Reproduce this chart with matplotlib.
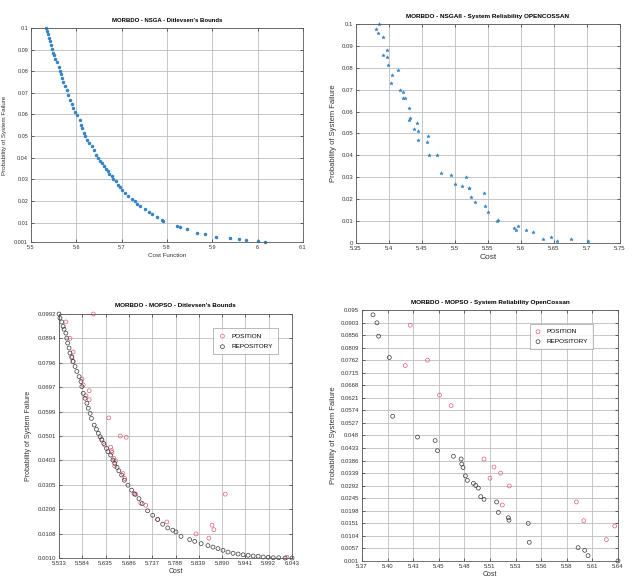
import numpy as np
import matplotlib
matplotlib.use('Agg')
import matplotlib.pyplot as plt

plt.rcParams['font.family'] = ['Liberation Sans', 'DejaVu Sans']

# --- NSGA / Ditlevsen's bounds (top left) ---
nsga_dit_cost = [5.533, 5.535, 5.537, 5.539, 5.542, 5.544, 5.546, 5.549, 5.551, 5.554,
                 5.557, 5.561, 5.564, 5.566, 5.569, 5.571, 5.575, 5.579, 5.582, 5.586,
                 5.590, 5.593, 5.597, 5.602, 5.608, 5.610, 5.612, 5.617, 5.620, 5.624,
                 5.629, 5.634, 5.639, 5.643, 5.647, 5.652, 5.656, 5.661, 5.665, 5.669,
                 5.673, 5.678, 5.681, 5.687, 5.692, 5.696, 5.701, 5.707, 5.714, 5.722,
                 5.729, 5.734, 5.740, 5.751, 5.761, 5.768, 5.777, 5.788, 5.792, 5.822,
                 5.828, 5.844, 5.867, 5.883, 5.909, 5.938, 5.959, 5.975, 6.001, 6.016]
nsga_dit_pf = [0.1000, 0.0985, 0.0971, 0.0955, 0.0940, 0.0923, 0.0904, 0.0884, 0.0873, 0.0856,
               0.0843, 0.0819, 0.0801, 0.0789, 0.0770, 0.0750, 0.0730, 0.0711, 0.0688, 0.0665,
               0.0650, 0.0631, 0.0611, 0.0596, 0.0573, 0.0549, 0.0537, 0.0514, 0.0500, 0.0483,
               0.0468, 0.0452, 0.0437, 0.0411, 0.0400, 0.0385, 0.0375, 0.0362, 0.0349, 0.0337,
               0.0326, 0.0314, 0.0303, 0.0291, 0.0275, 0.0265, 0.0252, 0.0238, 0.0222, 0.0211,
               0.0198, 0.0188, 0.0177, 0.0163, 0.0149, 0.0139, 0.0126, 0.0114, 0.0108, 0.0083,
               0.0078, 0.0068, 0.0052, 0.0045, 0.0035, 0.0030, 0.0022, 0.0018, 0.0013, 0.0011]
tl_xticks = [5.5, 5.6, 5.7, 5.8, 5.9, 6.0, 6.1]
tl_xlabels = ['5.5', '5.6', '5.7', '5.8', '5.9', '6', '6.1']
tl_yticks = [0.001, 0.01, 0.02, 0.03, 0.04, 0.05, 0.06, 0.07, 0.08, 0.09, 0.1]
tl_ylabels = ['0.001', '0.01', '0.02', '0.03', '0.04', '0.05', '0.06', '0.07', '0.08', '0.09', '0.1']

# --- NSGAII / OpenCossan (top right) ---
nsga2_cost = [5.385, 5.381, 5.384, 5.391, 5.397, 5.391, 5.397, 5.399, 5.414, 5.404,
              5.403, 5.416, 5.421, 5.422, 5.424, 5.430, 5.432, 5.431, 5.443, 5.438,
              5.444, 5.459, 5.444, 5.457, 5.460, 5.473, 5.479, 5.494, 5.516, 5.500,
              5.511, 5.521, 5.522, 5.544, 5.525, 5.530, 5.545, 5.550, 5.563, 5.565,
              5.590, 5.593, 5.596, 5.608, 5.618, 5.634, 5.645, 5.655, 5.676, 5.701]
nsga2_pf = [0.1000, 0.0979, 0.0959, 0.0939, 0.0879, 0.0859, 0.0849, 0.0811, 0.0789, 0.0769,
            0.0730, 0.0700, 0.0690, 0.0660, 0.0660, 0.0618, 0.0571, 0.0562, 0.0550, 0.0521,
            0.0511, 0.0489, 0.0469, 0.0460, 0.0400, 0.0400, 0.0320, 0.0310, 0.0300, 0.0271,
            0.0260, 0.0249, 0.0249, 0.0229, 0.0209, 0.0189, 0.0169, 0.0140, 0.0099, 0.0107,
            0.0070, 0.0060, 0.0079, 0.0060, 0.0050, 0.0020, 0.0029, 0.0009, 0.0020, 0.0009]
tr_xticks = [5.35, 5.4, 5.45, 5.5, 5.55, 5.6, 5.65, 5.7, 5.75]
tr_xlabels = ['5.35', '5.4', '5.45', '5.5', '5.55', '5.6', '5.65', '5.7', '5.75']
tr_yticks = [0, 0.01, 0.02, 0.03, 0.04, 0.05, 0.06, 0.07, 0.08, 0.09, 0.1]
tr_ylabels = ['0', '0.01', '0.02', '0.03', '0.04', '0.05', '0.06', '0.07', '0.08', '0.09', '0.1']

# --- MOPSO / Ditlevsen's bounds (bottom left) ---
mopso_dit_pos_cost = [5.608, 5.548, 5.557, 5.564, 5.561, 5.563, 5.583, 5.586, 5.599, 5.592,
                      5.599, 5.642, 5.667, 5.680, 5.626, 5.633, 5.646, 5.648, 5.649, 5.653,
                      5.657, 5.655, 5.673, 5.677, 5.697, 5.701, 5.712, 5.723, 5.749, 5.769,
                      5.833, 5.861, 5.868, 5.872, 5.897, 6.032]
mopso_dit_pos_pf = [0.0992, 0.0960, 0.0894, 0.0839, 0.0821, 0.0801, 0.0730, 0.0707, 0.0683, 0.0663,
                    0.0647, 0.0574, 0.0501, 0.0496, 0.0488, 0.0465, 0.0456, 0.0442, 0.0435, 0.0411,
                    0.0401, 0.0380, 0.0350, 0.0330, 0.0270, 0.0266, 0.0232, 0.0222, 0.0165, 0.0155,
                    0.0107, 0.0090, 0.0142, 0.0124, 0.0267, 0.0013]
mopso_dit_rep_cost = [5.533, 5.535, 5.539, 5.542, 5.544, 5.548, 5.550, 5.552, 5.555, 5.557,
                      5.561, 5.564, 5.568, 5.572, 5.577, 5.581, 5.583, 5.586, 5.590, 5.594,
                      5.597, 5.601, 5.604, 5.610, 5.615, 5.619, 5.623, 5.627, 5.631, 5.637,
                      5.640, 5.646, 5.651, 5.655, 5.660, 5.664, 5.670, 5.676, 5.684, 5.692,
                      5.699, 5.708, 5.715, 5.727, 5.738, 5.749, 5.760, 5.771, 5.782, 5.789,
                      5.800, 5.819, 5.830, 5.844, 5.859, 5.870, 5.881, 5.892, 5.903, 5.914,
                      5.925, 5.936, 5.947, 5.958, 5.969, 5.980, 5.991, 6.002, 6.014, 6.028, 6.043]
mopso_dit_rep_pf = [0.0992, 0.0976, 0.0960, 0.0942, 0.0931, 0.0915, 0.0895, 0.0875, 0.0855, 0.0835,
                    0.0817, 0.0801, 0.0781, 0.0761, 0.0740, 0.0720, 0.0700, 0.0673, 0.0653, 0.0633,
                    0.0613, 0.0592, 0.0572, 0.0545, 0.0528, 0.0512, 0.0498, 0.0485, 0.0471, 0.0451,
                    0.0438, 0.0424, 0.0404, 0.0391, 0.0375, 0.0361, 0.0344, 0.0323, 0.0303, 0.0283,
                    0.0267, 0.0249, 0.0229, 0.0200, 0.0182, 0.0165, 0.0146, 0.0131, 0.0122, 0.0115,
                    0.0097, 0.0084, 0.0077, 0.0068, 0.0060, 0.0054, 0.0048, 0.0041, 0.0034, 0.0029,
                    0.0026, 0.0023, 0.0021, 0.0018, 0.0017, 0.0014, 0.0013, 0.0011, 0.0011, 0.0010, 0.0010]
bl_xticks = [5.533, 5.584, 5.635, 5.686, 5.737, 5.788, 5.839, 5.890, 5.941, 5.992, 6.043]
bl_xlabels = ['5.533', '5.584', '5.635', '5.686', '5.737', '5.788', '5.839', '5.890', '5.941', '5.992', '6.043']
bl_yticks = [0.0010, 0.0108, 0.0206, 0.0305, 0.0403, 0.0501, 0.0599, 0.0697, 0.0796, 0.0894, 0.0992]
bl_ylabels = ['0.0010', '0.0108', '0.0206', '0.0305', '0.0403', '0.0501', '0.0599', '0.0697', '0.0796', '0.0894', '0.0992']

# --- MOPSO / OpenCossan (bottom right) ---
mopso_oc_pos_cost = [5.4208, 5.4156, 5.4391, 5.4517, 5.4640, 5.4987, 5.5092, 5.5050, 5.5162, 5.5253,
                     5.5180, 5.5961, 5.6039, 5.6365, 5.6277]
mopso_oc_pos_pf = [0.0893, 0.0742, 0.0762, 0.0631, 0.0592, 0.0392, 0.0362, 0.0320, 0.0339, 0.0291,
                   0.0220, 0.0231, 0.0161, 0.0141, 0.0090]
mopso_oc_rep_cost = [5.3816, 5.3858, 5.3875, 5.3988, 5.4023, 5.4286, 5.4471, 5.4496, 5.4664, 5.4745,
                     5.4752, 5.4766, 5.4790, 5.4811, 5.4875, 5.4899, 5.4927, 5.4952, 5.4987, 5.5120,
                     5.5138, 5.5243, 5.5250, 5.5453, 5.5464, 5.5979, 5.6049, 5.6084, 5.6400]
mopso_oc_rep_pf = [0.0932, 0.0902, 0.0852, 0.0772, 0.0552, 0.0474, 0.0461, 0.0423, 0.0402, 0.0392,
                   0.0373, 0.0360, 0.0329, 0.0312, 0.0301, 0.0293, 0.0283, 0.0251, 0.0241, 0.0231,
                   0.0192, 0.0172, 0.0163, 0.0151, 0.0080, 0.0060, 0.0050, 0.0030, 0.0010]
br_xticks = [5.37, 5.397, 5.424, 5.451, 5.478, 5.505, 5.532, 5.559, 5.586, 5.613, 5.64]
br_xlabels = ['5.37', '5.40', '5.43', '5.45', '5.48', '5.51', '5.53', '5.56', '5.58', '5.61', '5.64']
br_yticks = [0.001, 0.0057, 0.0104, 0.0151, 0.0198, 0.0245, 0.0292, 0.0339, 0.0386, 0.0433, 0.048,
             0.0527, 0.0574, 0.0621, 0.0668, 0.0715, 0.0762, 0.0809, 0.0856, 0.0903, 0.095]
br_ylabels = ['%g' % v for v in br_yticks]

BLUE = '#3584c8'
RED = '#e0607a'
DARK = '#3a3a3a'
ylab = 'Probability of System Failure'


def style(ax, xt, xl, yt, yl, fs=4.2):
    ax.set_xticks(xt)
    ax.set_xticklabels(xl)
    ax.set_yticks(yt)
    ax.set_yticklabels(yl)
    ax.grid(True, color='#bdbdbd', lw=0.6)
    ax.set_axisbelow(True)
    for s in ax.spines.values():
        s.set_color('#5a5a5a')
        s.set_linewidth(0.6)
    ax.tick_params(direction='in', length=2, width=0.5, top=True, right=True,
                   labelsize=fs, colors='#333333', pad=2)


fig = plt.figure(figsize=(6.36, 5.78), dpi=100)

# top left
ax1 = fig.add_axes([0.0487, 0.5813, 0.4277, 0.3703])
ax1.plot(nsga_dit_cost, nsga_dit_pf, '.', ms=3.0, color=BLUE, clip_on=False)
ax1.set_xlim(5.5, 6.1)
ax1.set_ylim(0.001, 0.1)
style(ax1, tl_xticks, tl_xlabels, tl_yticks, tl_ylabels, fs=4.0)
ax1.set_title("MORBDO - NSGA - Ditlevsen's Bounds", fontsize=4.3, fontweight='bold', pad=4)
ax1.set_xlabel('Cost Function', fontsize=4.5, labelpad=2, color='#333333')
ax1.set_ylabel(ylab, fontsize=4.5, labelpad=5, color='#333333')

# top right
ax2 = fig.add_axes([0.5597, 0.5796, 0.4151, 0.3789])
ax2.plot(nsga2_cost, nsga2_pf, '*', ms=2.6, color=BLUE, mew=0.3, clip_on=False)
ax2.set_xlim(5.35, 5.75)
ax2.set_ylim(0, 0.1)
style(ax2, tr_xticks, tr_xlabels, tr_yticks, tr_ylabels, fs=4.3)
ax2.set_title('MORBDO - NSGAII - System Reliability OPENCOSSAN', fontsize=4.6, fontweight='bold', pad=4)
ax2.set_xlabel('Cost', fontsize=6, labelpad=2, color='#333333')
ax2.set_ylabel(ylab, fontsize=5.5, labelpad=3, color='#333333')

# bottom left
ax3 = fig.add_axes([0.0928, 0.0346, 0.3663, 0.4221])
ax3.scatter(mopso_dit_pos_cost, mopso_dit_pos_pf, s=8, facecolors='none',
            edgecolors=RED, linewidths=0.5, label='POSITION', clip_on=False)
ax3.scatter(mopso_dit_rep_cost, mopso_dit_rep_pf, s=8, facecolors='none',
            edgecolors=DARK, linewidths=0.5, label='REPOSITORY', clip_on=False)
ax3.set_xlim(5.533, 6.043)
ax3.set_ylim(0.0010, 0.0992)
style(ax3, bl_xticks, bl_xlabels, bl_yticks, bl_ylabels, fs=4.3)
ax3.set_title("MORBDO - MOPSO - Ditlevsen's Bounds", fontsize=4.5, fontweight='bold', pad=5)
ax3.set_xlabel('Cost', fontsize=5, labelpad=1.5, color='#333333')
ax3.set_ylabel(ylab, fontsize=5, labelpad=4, color='#333333')
leg = ax3.legend(loc='upper right', bbox_to_anchor=(0.953, 0.955), fontsize=4.6,
                 frameon=True, fancybox=False, edgecolor='#888888', handletextpad=0.8,
                 borderpad=0.8, labelspacing=0.8, handlelength=1.2)
leg.get_frame().set_linewidth(0.5)

# bottom right
ax4 = fig.add_axes([0.5692, 0.0294, 0.4025, 0.4343])
ax4.scatter(mopso_oc_pos_cost, mopso_oc_pos_pf, s=8, facecolors='none',
            edgecolors=RED, linewidths=0.5, label='POSITION', clip_on=False)
ax4.scatter(mopso_oc_rep_cost, mopso_oc_rep_pf, s=8, facecolors='none',
            edgecolors=DARK, linewidths=0.5, label='REPOSITORY', clip_on=False)
ax4.set_xlim(5.37, 5.64)
ax4.set_ylim(0.001, 0.095)
style(ax4, br_xticks, br_xlabels, br_yticks, br_ylabels, fs=4.3)
ax4.set_title('MORBDO - MOPSO - System Reliability OpenCossan', fontsize=4.6, fontweight='bold', pad=4)
ax4.set_xlabel('Cost', fontsize=5, labelpad=1.5, color='#333333')
ax4.set_ylabel(ylab, fontsize=5.5, labelpad=3, color='#333333')
leg = ax4.legend(loc='upper right', bbox_to_anchor=(0.914, 0.955), fontsize=4.6,
                 frameon=True, fancybox=False, edgecolor='#888888', handletextpad=0.8,
                 borderpad=0.7, labelspacing=0.7, handlelength=1.2)
leg.get_frame().set_linewidth(0.5)

fig.savefig('out.png', dpi=100)
